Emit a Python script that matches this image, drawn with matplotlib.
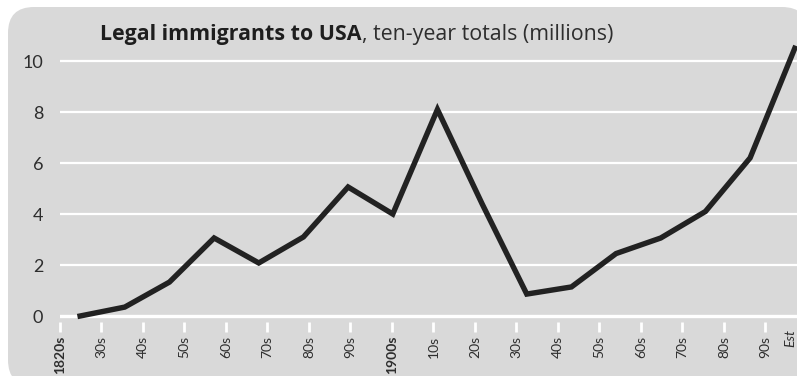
import matplotlib
matplotlib.use('Agg')
import matplotlib.pyplot as plt
from matplotlib.patches import FancyBboxPatch
from matplotlib.transforms import IdentityTransform

# values, millions per decade
immigrants = [0.0, 0.35, 1.33, 3.06, 2.08, 3.1, 5.06, 4.0, 8.1, 4.4,
              0.86, 1.14, 2.45, 3.06, 4.1, 6.2, 10.5]
tick_labels = ['1820s', '30s', '40s', '50s', '60s', '70s', '80s', '90s', '1900s',
               '10s', '20s', '30s', '40s', '50s', '60s', '70s', '80s', '90s']
y_ticks = [0, 2, 4, 6, 8, 10]

bg = '#d9d9d9'
txt = '#2e2e2e'
plt.rcParams['font.family'] = ['Lato', 'DejaVu Sans']

fig = plt.figure(figsize=(7.97, 3.76), dpi=100)
fig.patch.set_facecolor('white')

# rounded grey panel (pixel coords)
panel = FancyBboxPatch((8, -10), 800, 379, boxstyle='round,pad=0,rounding_size=26',
                       transform=IdentityTransform(), facecolor=bg, edgecolor='none',
                       zorder=-10)
fig.add_artist(panel)

ax = fig.add_axes([60 / 797, 54 / 376, 737 / 797, 276 / 376])
ax.set_facecolor('none')
for s in ax.spines.values():
    s.set_visible(False)

x = list(range(len(immigrants)))
ax.plot(x, immigrants, color='#222222', lw=3.9, solid_joinstyle='miter', zorder=5, clip_on=False)
ax.set_xlim(-0.45, 16.05)
ax.set_ylim(-0.235, 10.59)

ax.set_yticks(y_ticks)
ax.set_yticklabels([str(v) for v in y_ticks])
ax.tick_params(axis='y', length=0, pad=12, labelsize=13, labelcolor=txt)
for v in y_ticks[1:]:
    ax.axhline(v, color='white', lw=1.6, zorder=1)
ax.axhline(0, color='white', lw=2.4, zorder=1)
ax.set_xticks([])

# decade ticks on their own scale
ax2 = ax.twiny()
ax2.set_xlim(0, 17.76)
ax2.xaxis.set_ticks_position('bottom')
for s in ax2.spines.values():
    s.set_visible(False)
ax2.set_xticks(range(len(tick_labels)))
ax2.set_xticklabels(tick_labels)
ax2.tick_params(axis='x', direction='out', length=7, width=2, color='white',
                pad=3, labelrotation=90, labelsize=10, labelcolor=txt)
for t in ax2.get_xticklabels():
    if t.get_text() in ('1820s', '1900s'):
        t.set_fontweight('bold')

ax2.text(17.6, -0.025, 'Est', transform=ax2.get_xaxis_transform(), rotation=90,
         style='italic', fontsize=10, color=txt, ha='center', va='top')

t1 = fig.text(100 / 797, 1 - 40 / 376, 'Legal immigrants to USA', fontsize=15.4,
              fontweight='bold', color='#1e1e1e', ha='left', va='baseline',
              family=['Open Sans', 'DejaVu Sans'])
fig.canvas.draw()
bb = t1.get_window_extent()
fig.text(bb.x1 / fig.bbox.width, 1 - 40 / 376, ', ten-year totals (millions)', fontsize=15.4,
         color=txt, ha='left', va='baseline', family=['Open Sans', 'DejaVu Sans'])

fig.savefig('out.png', dpi=100, facecolor=fig.get_facecolor())
